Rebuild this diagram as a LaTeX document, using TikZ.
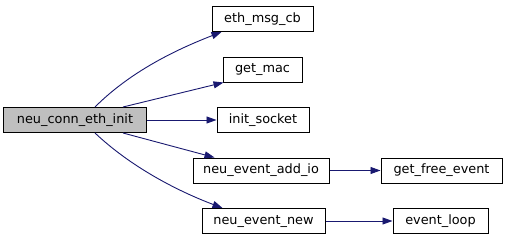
\documentclass[tikz,border=0pt]{standalone}
\usepackage{fontspec}
\setmainfont{DejaVu Sans}
\usetikzlibrary{arrows.meta}
\definecolor{edgeblue}{HTML}{191970}
\definecolor{rootgray}{HTML}{BFBFBF}
\begin{document}
\begin{tikzpicture}[x=1bp,y=-1bp,
  fn/.style={draw=black, line width=1bp, fill=white, inner sep=0pt,
    minimum height=25bp, text height=9.5bp, text depth=3bp,
    font=\fontsize{12.9}{15}\selectfont},
  call/.style={draw=edgeblue, line width=0.9bp,
    -{Triangle[length=10bp,width=7bp,fill=edgeblue]}}]
\useasboundingbox (0,0) rectangle (507,240);
% caller
\node[fn, fill=rootgray, minimum width=142bp] (root) at (75,120) {neu\_conn\_eth\_init};
% direct callees
\node[fn, minimum width=101bp] (ethmsg) at (262.5,19) {eth\_msg\_cb};
\node[fn, minimum width=79bp] (getmac) at (262.5,69.5) {get\_mac};
\node[fn, minimum width=92bp] (initsock) at (263,120) {init\_socket};
\node[fn, minimum width=136bp] (addio) at (261,170.5) {neu\_event\_add\_io};
\node[fn, minimum width=123bp] (evnew) at (263.5,221) {neu\_event\_new};
% second level
\node[fn, minimum width=121bp] (freeev) at (441.5,170.5) {get\_free\_event};
\node[fn, minimum width=95bp] (evloop) at (440.5,221) {event\_loop};
% calls
\draw[call] ([xshift=20bp]root.north) .. controls (130,72) and (175,50) .. ([xshift=10bp]ethmsg.south west);
\draw[call] ([xshift=48bp]root.north) -- ([xshift=1bp]getmac.south west);
\draw[call] (root.east) -- (initsock.west);
\draw[call] ([xshift=48bp]root.south) -- ([xshift=22bp]addio.north west);
\draw[call] ([xshift=20bp]root.south) .. controls (130,166) and (175,190) .. ([xshift=21bp]evnew.north west);
\draw[call] (addio.east) -- (freeev.west);
\draw[call] (evnew.east) -- (evloop.west);
\end{tikzpicture}
\end{document}
